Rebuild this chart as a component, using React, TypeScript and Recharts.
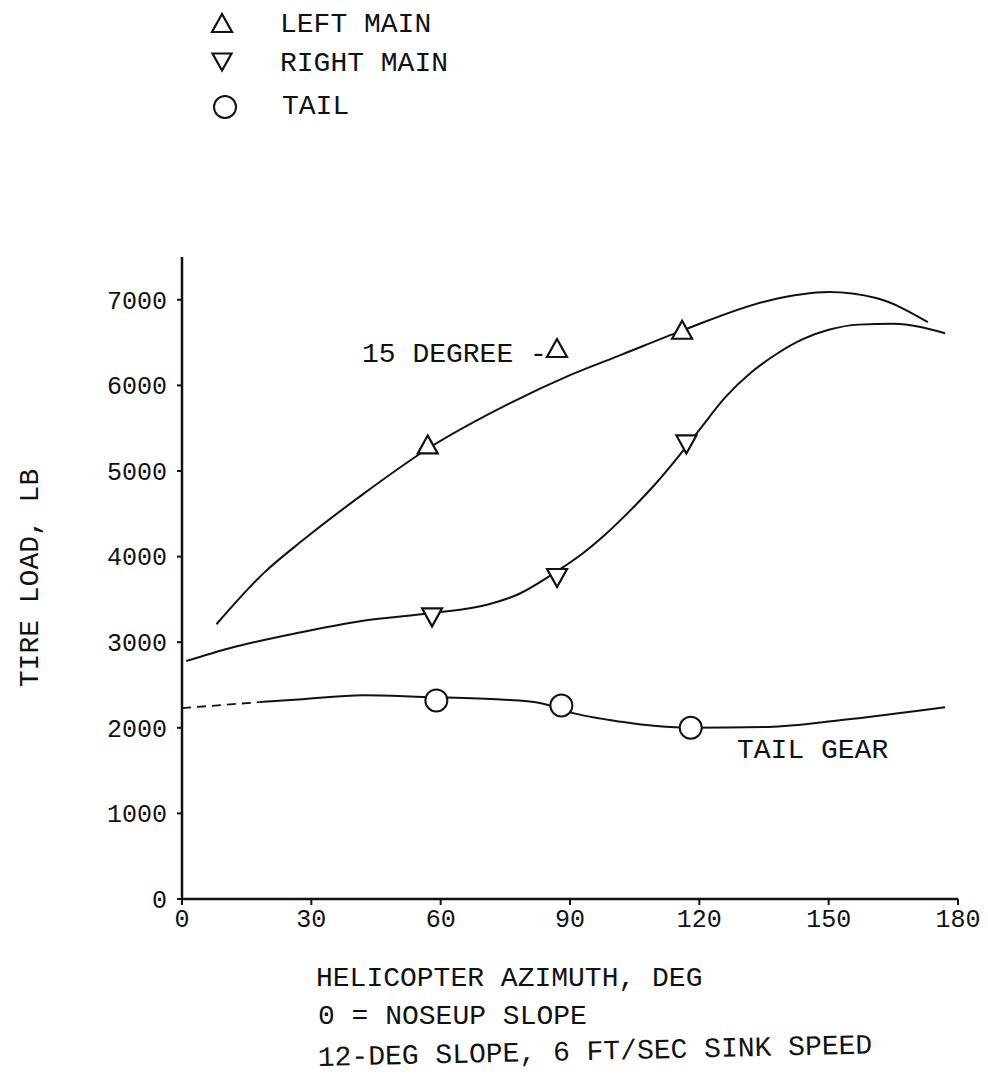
import React from 'react';
import {
  ComposedChart,
  Line,
  Scatter,
  XAxis,
  YAxis,
} from 'recharts';

const FONT = '"Liberation Mono", "DejaVu Sans Mono", monospace';
const INK = '#111';

// axis ticks
const xTicks = [0, 30, 60, 90, 120, 150, 180];
const yTicks = [0, 1000, 2000, 3000, 4000, 5000, 6000, 7000];

// LEFT MAIN (15 degree) faired curve + test points
const leftMainDeg = [8, 19, 28, 42, 57, 76, 90, 102, 116, 136, 150, 161, 173];
const leftMainLoad = [3210, 3810, 4190, 4730, 5260, 5790, 6120, 6360, 6640, 6990, 7090, 7020, 6740];
const leftMainTestDeg = [57, 116];
const leftMainTestLoad = [5310, 6650];

// RIGHT MAIN
const rightMainDeg = [1, 11, 27, 42, 58, 71, 78, 87, 93, 98, 104, 110, 115, 120, 126, 132, 138, 144, 150, 157, 165, 177];
const rightMainLoad = [2780, 2930, 3110, 3250, 3340, 3440, 3560, 3830, 4040, 4250, 4540, 4860, 5160, 5480, 5860, 6150, 6370, 6540, 6650, 6710, 6720, 6610];
const rightMainTestDeg = [58, 87, 117];
const rightMainTestLoad = [3290, 3750, 5310];

// TAIL GEAR
const tailDeg = [0, 18, 27, 42, 56, 74, 83, 90, 102, 110, 118, 136, 153, 177];
const tailLoad = [2230, 2300, 2330, 2380, 2360, 2330, 2290, 2180, 2070, 2020, 2000, 2010, 2090, 2240];
const tailTestDeg = [59, 88, 118];
const tailTestLoad = [2320, 2260, 2000];

const toRows = (xs: number[], ys: number[]) => xs.map((deg, i) => ({ deg, load: ys[i] }));

const leftMainRows = toRows(leftMainDeg, leftMainLoad);
const rightMainRows = toRows(rightMainDeg, rightMainLoad);
const tailRows = toRows(tailDeg, tailLoad);
const tailDashRows = tailRows.slice(0, 2);
const tailSolidRows = tailRows.slice(1);

// markers
const UpTri = ({ cx, cy, w = 20, h = 18 }: any) => (
  <polygon
    points={`${cx},${cy - h / 2} ${cx - w / 2},${cy + h / 2} ${cx + w / 2},${cy + h / 2}`}
    fill="#fff"
    stroke={INK}
    strokeWidth={2.2}
  />
);

const DownTri = ({ cx, cy, w = 20, h = 18 }: any) => (
  <polygon
    points={`${cx - w / 2},${cy - h / 2} ${cx + w / 2},${cy - h / 2} ${cx},${cy + h / 2}`}
    fill="#fff"
    stroke={INK}
    strokeWidth={2.2}
  />
);

const Ring = ({ cx, cy, r = 11 }: any) => (
  <circle cx={cx} cy={cy} r={r} fill="#fff" stroke={INK} strokeWidth={2} />
);

const txt = { fontFamily: FONT, fill: INK } as const;

export default function App() {
  return (
    <div style={{ position: 'absolute', left: 0, top: 0, width: 988, height: 1087, background: '#fff' }}>
      <ComposedChart
        width={988}
        height={1087}
        margin={{ top: 257, right: 30, bottom: 158, left: 122 }}
      >
        <XAxis
          type="number"
          dataKey="deg"
          domain={[0, 180]}
          ticks={xTicks}
          height={30}
          tickSize={6}
          tickMargin={4}
          axisLine={{ stroke: INK, strokeWidth: 2.5 }}
          tickLine={{ stroke: INK, strokeWidth: 2 }}
          tick={{ fontFamily: FONT, fontSize: 25, fill: INK }}
          interval={0}
        />
        <YAxis
          type="number"
          dataKey="load"
          domain={[0, 7500]}
          ticks={yTicks}
          width={60}
          tickSize={5}
          tickMargin={10}
          axisLine={{ stroke: INK, strokeWidth: 2.5 }}
          tickLine={{ stroke: INK, strokeWidth: 2 }}
          tick={{ fontFamily: FONT, fontSize: 25, fill: INK }}
          interval={0}
        />

        <Line data={leftMainRows} dataKey="load" type="monotone" stroke={INK} strokeWidth={2} dot={false} isAnimationActive={false} />
        <Line data={rightMainRows} dataKey="load" type="monotone" stroke={INK} strokeWidth={2} dot={false} isAnimationActive={false} />
        <Line data={tailDashRows} dataKey="load" type="monotone" stroke={INK} strokeWidth={1.8} strokeDasharray="9 6" dot={false} isAnimationActive={false} />
        <Line data={tailSolidRows} dataKey="load" type="monotone" stroke={INK} strokeWidth={2} dot={false} isAnimationActive={false} />

        <Scatter data={toRows(leftMainTestDeg, leftMainTestLoad)} dataKey="load" shape={(p: any) => <UpTri cx={p.cx} cy={p.cy} />} isAnimationActive={false} />
        <Scatter data={toRows(rightMainTestDeg, rightMainTestLoad)} dataKey="load" shape={(p: any) => <DownTri cx={p.cx} cy={p.cy} />} isAnimationActive={false} />
        <Scatter data={toRows(tailTestDeg, tailTestLoad)} dataKey="load" shape={(p: any) => <Ring cx={p.cx} cy={p.cy} />} isAnimationActive={false} />
      </ComposedChart>

      <svg
        width={988}
        height={1087}
        style={{ position: 'absolute', left: 0, top: 0, pointerEvents: 'none' }}
      >
        {/* legend */}
        <UpTri cx={222} cy={23} />
        <text x={280} y={32} fontSize={28} {...txt}>LEFT MAIN</text>
        <DownTri cx={222} cy={62} w={19} h={17} />
        <text x={280} y={71} fontSize={28} {...txt}>RIGHT MAIN</text>
        <Ring cx={225} cy={107} r={11} />
        <text x={282} y={114} fontSize={28} {...txt}>TAIL</text>

        {/* curve notes */}
        <text x={362} y={362} fontSize={28} {...txt}>15 DEGREE -</text>
        <UpTri cx={557} cy={348} />
        <text x={737} y={758} fontSize={28} {...txt}>TAIL GEAR</text>

        {/* axis titles */}
        <text transform="translate(38, 578) rotate(-90)" textAnchor="middle" fontSize={28} {...txt}>
          TIRE LOAD, LB
        </text>
        <text x={316} y={986} fontSize={28} {...txt}>HELICOPTER AZIMUTH, DEG</text>
        <text x={318} y={1024} fontSize={28} {...txt}>0 = NOSEUP SLOPE</text>
        <text x={318} y={1066} fontSize={28} transform="rotate(-1.3 318 1066)" {...txt}>
          12-DEG SLOPE, 6 FT/SEC SINK SPEED
        </text>
      </svg>
    </div>
  );
}
